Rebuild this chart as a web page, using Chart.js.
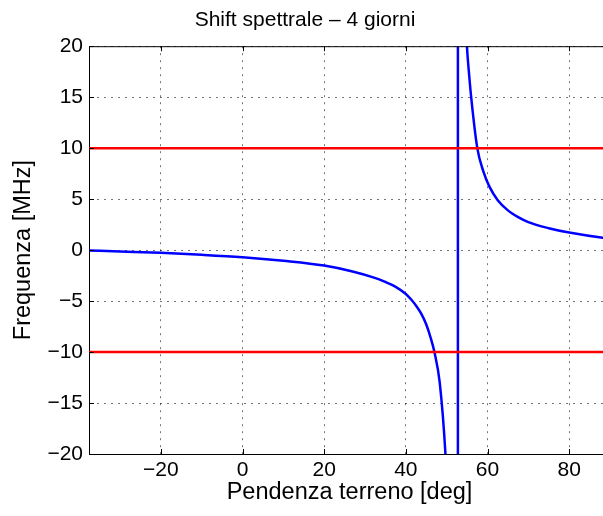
<!DOCTYPE html>
<html>
<head>
<meta charset="utf-8">
<script src="https://cdn.jsdelivr.net/npm/chart.js@4"></script>
<style>
  html, body { margin: 0; padding: 0; background: #fff; overflow: hidden; }
  canvas { display: block; }
</style>
</head>
<body>
<!-- axes box runs slightly past the right edge of the window, as in the original -->
<canvas id="chart" width="610" height="516"></canvas>
<script>
// axis limits and ticks
const xRange = [-37.6, 90];
const yRange = [-20, 20];
const xTicks = [-20, 0, 20, 40, 60, 80];
const yTicks = [-20, -15, -10, -5, 0, 5, 10, 15, 20];

// curve left of the asymptote
const leftX = [-37.6, -30, -20, -10, 0, 10, 20, 26.7, 32.4, 34.8, 37.3, 40, 41.3, 42.6, 43.8, 45, 46, 47, 48.3, 49.7, 50.5];
const leftY = [-0.04, -0.14, -0.27, -0.46, -0.70, -1.05, -1.52, -2.08, -2.73, -3.1, -3.55, -4.3, -4.85, -5.5, -6.25, -7.3, -8.5, -10, -13, -20, -27];

// jump across the asymptote (off-scale ends)
const jumpX = [52.75, 52.75];
const jumpY = [-1000, 1000];

// curve right of the asymptote
const rightX = [54.4, 54.96, 55.5, 56.0, 57.5, 59.0, 60.5, 62.5, 65.0, 67.5, 70.0, 75.0, 80.0, 88.2, 90];
const rightY = [25, 20, 17.2, 15, 10, 7.7, 6.2, 4.9, 3.9, 3.24, 2.75, 2.15, 1.72, 1.22, 1.16];

// red threshold lines
const limitLevels = [10, -10];

const FONT = '"Liberation Sans", Arial, Helvetica, sans-serif';
const BLUE = '#0000ff';
const RED = '#ff0000';

const toPoints = (xs, ys) => xs.map((x, i) => ({ x: x, y: ys[i] }));

const blueLine = (xs, ys) => ({
    data: toPoints(xs, ys),
    borderColor: BLUE,
    borderWidth: 2.5,
    pointRadius: 0,
    fill: false,
    cubicInterpolationMode: 'monotone',
    order: 2
});

const redLines = limitLevels.map(level => ({
    data: toPoints(xRange, [level, level]),
    borderColor: RED,
    borderWidth: 2.5,
    pointRadius: 0,
    fill: false,
    order: 1
}));

// top border + inward tick marks, like a matlab box
const boxPlugin = {
    id: 'box',
    afterDatasetsDraw(chart) {
        const { ctx, chartArea, scales } = chart;
        const len = 5;
        ctx.save();
        ctx.strokeStyle = '#000';
        ctx.lineWidth = 1;
        ctx.beginPath();
        ctx.moveTo(chartArea.left, chartArea.top + 0.5);
        ctx.lineTo(chartArea.right, chartArea.top + 0.5);
        ctx.moveTo(chartArea.right - 0.5, chartArea.top);
        ctx.lineTo(chartArea.right - 0.5, chartArea.bottom);
        xTicks.forEach(v => {
            const px = Math.round(scales.x.getPixelForValue(v)) + 0.5;
            ctx.moveTo(px, chartArea.bottom);
            ctx.lineTo(px, chartArea.bottom - len);
            ctx.moveTo(px, chartArea.top);
            ctx.lineTo(px, chartArea.top + len);
        });
        yTicks.forEach(v => {
            const py = Math.round(scales.y.getPixelForValue(v)) + 0.5;
            ctx.moveTo(chartArea.left, py);
            ctx.lineTo(chartArea.left + len, py);
        });
        ctx.stroke();
        ctx.restore();
    }
};

const tickLabel = v => (v < 0 ? '\u2212' + Math.abs(v) : String(v));

new Chart(document.getElementById('chart'), {
    type: 'line',
    data: {
        datasets: [...redLines, blueLine(leftX, leftY), blueLine(jumpX, jumpY), blueLine(rightX, rightY)]
    },
    options: {
        responsive: false,
        animation: false,
        layout: { padding: 0 },
        plugins: {
            legend: { display: false },
            tooltip: { enabled: false },
            title: {
                display: true,
                text: 'Shift spettrale \u2013 4 giorni',
                color: '#000',
                font: { family: FONT, size: 21, weight: 'normal' },
                padding: { top: 8, bottom: 13 }
            }
        },
        scales: {
            x: {
                type: 'linear',
                min: xRange[0],
                max: xRange[1],
                afterBuildTicks: s => { s.ticks = xTicks.map(v => ({ value: v })); },
                afterFit: s => { s.height = 62; },
                grid: { color: 'rgba(0,0,0,0.55)', lineWidth: 1, drawTicks: false },
                border: { display: true, color: '#000', width: 1, dash: [2, 5] },
                ticks: {
                    color: '#000',
                    padding: 4,
                    maxRotation: 0,
                    font: { family: FONT, size: 21 },
                    callback: tickLabel
                },
                title: {
                    display: true,
                    text: 'Pendenza terreno [deg]',
                    color: '#000',
                    font: { family: FONT, size: 23.5 },
                    padding: { top: 0, bottom: 9 }
                }
            },
            y: {
                type: 'linear',
                min: yRange[0],
                max: yRange[1],
                afterBuildTicks: s => { s.ticks = yTicks.map(v => ({ value: v })); },
                afterFit: s => { s.width = 89; },
                grid: { color: 'rgba(0,0,0,0.55)', lineWidth: 1, drawTicks: false },
                border: { display: true, color: '#000', width: 1, dash: [2, 5] },
                ticks: {
                    color: '#000',
                    padding: 6,
                    font: { family: FONT, size: 21 },
                    callback: tickLabel
                },
                title: {
                    display: true,
                    text: 'Frequenza [MHz]',
                    color: '#000',
                    font: { family: FONT, size: 23.5 },
                    padding: { top: 9, bottom: 0 }
                }
            }
        }
    },
    plugins: [boxPlugin]
});
</script>
</body>
</html>
